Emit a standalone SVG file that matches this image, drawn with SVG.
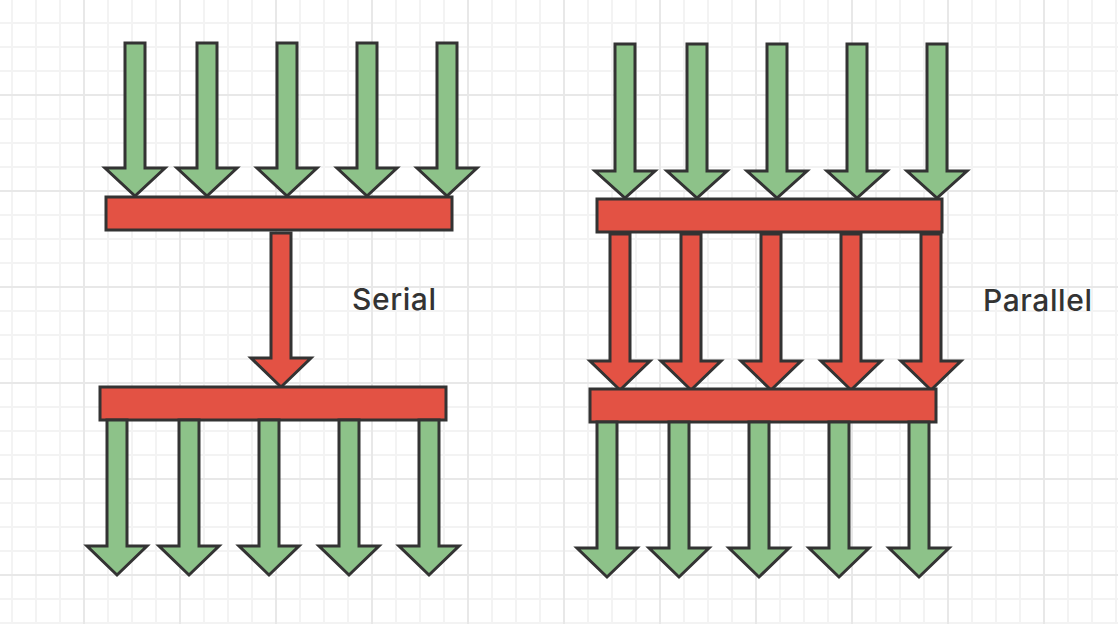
<svg xmlns="http://www.w3.org/2000/svg" width="1118" height="624" viewBox="0 0 1118 624">
  <defs>
    <pattern id="minor" patternUnits="userSpaceOnUse" x="11" y="22" width="24" height="24">
      <rect x="0" y="0" width="2" height="24" fill="#f3f3f3"/>
      <rect x="0" y="0" width="24" height="2" fill="#f3f3f3"/>
    </pattern>
    <pattern id="major" patternUnits="userSpaceOnUse" x="83" y="94" width="96" height="96">
      <rect x="0" y="0" width="2" height="96" fill="#e8e8e8"/>
      <rect x="0" y="0" width="96" height="2" fill="#e8e8e8"/>
    </pattern>
    <style>
      .g { fill: #8dc289; stroke: #333333; stroke-width: 3; stroke-linejoin: miter; }
      .r { fill: #e35244; stroke: #333333; stroke-width: 3; stroke-linejoin: miter; }
      .lbl { font-family: Inter, "Liberation Sans", sans-serif; font-size: 30px; font-weight: 500; fill: #333333; }
    </style>
  </defs>
  <rect width="1118" height="624" fill="#ffffff"/>
  <rect width="1118" height="624" fill="url(#minor)"/>
  <rect width="1118" height="624" fill="url(#major)"/>

  <g id="serial">
    <g id="serial-in">
      <path class="g" d="M125,43 H145 V168 H165 L135,196 L105,168 H125 Z"/>
      <path class="g" d="M197,43 H217 V168 H237 L207,196 L177,168 H197 Z"/>
      <path class="g" d="M277,43 H297 V168 H317 L287,196 L257,168 H277 Z"/>
      <path class="g" d="M357,43 H377 V168 H397 L367,196 L337,168 H357 Z"/>
      <path class="g" d="M437,43 H457 V168 H477 L447,196 L417,168 H437 Z"/>
    </g>
    <rect id="serial-bar1" class="r" x="106" y="197" width="346" height="33"/>
    <path id="serial-link" class="r" d="M271,233 H291 V358 H311 L281,387 L251,358 H271 Z"/>
    <rect id="serial-bar2" class="r" x="100" y="387" width="346" height="33"/>
    <g id="serial-out">
      <path class="g" d="M107,420 H127 V546 H147 L117,575 L87,546 H107 Z"/>
      <path class="g" d="M179,420 H199 V546 H219 L189,575 L159,546 H179 Z"/>
      <path class="g" d="M259,420 H279 V546 H299 L269,575 L239,546 H259 Z"/>
      <path class="g" d="M339,420 H359 V546 H379 L349,575 L319,546 H339 Z"/>
      <path class="g" d="M419,420 H439 V546 H459 L429,575 L399,546 H419 Z"/>
    </g>
    <text id="serial-label" class="lbl" x="352" y="310" textLength="84">Serial</text>
  </g>

  <g id="parallel">
    <g id="parallel-in">
      <path class="g" d="M615,44 H635 V171 H655 L625,198 L595,171 H615 Z"/>
      <path class="g" d="M687,44 H707 V171 H727 L697,198 L667,171 H687 Z"/>
      <path class="g" d="M767,44 H787 V171 H807 L777,198 L747,171 H767 Z"/>
      <path class="g" d="M847,44 H867 V171 H887 L857,198 L827,171 H847 Z"/>
      <path class="g" d="M927,44 H947 V171 H967 L937,198 L907,171 H927 Z"/>
    </g>
    <rect id="parallel-bar1" class="r" x="597" y="199" width="345" height="33"/>
    <g id="parallel-links">
      <path class="r" d="M610,234 H630 V361 H650 L620,390 L590,361 H610 Z"/>
      <path class="r" d="M681,234 H701 V361 H721 L691,390 L661,361 H681 Z"/>
      <path class="r" d="M761,234 H781 V361 H801 L771,390 L741,361 H761 Z"/>
      <path class="r" d="M841,234 H861 V361 H881 L851,390 L821,361 H841 Z"/>
      <path class="r" d="M921,234 H941 V361 H961 L931,390 L901,361 H921 Z"/>
    </g>
    <rect id="parallel-bar2" class="r" x="590" y="389" width="346" height="33"/>
    <g id="parallel-out">
      <path class="g" d="M597,422 H617 V548 H637 L607,577 L577,548 H597 Z"/>
      <path class="g" d="M669,422 H689 V548 H709 L679,577 L649,548 H669 Z"/>
      <path class="g" d="M749,422 H769 V548 H789 L759,577 L729,548 H749 Z"/>
      <path class="g" d="M829,422 H849 V548 H869 L839,577 L809,548 H829 Z"/>
      <path class="g" d="M909,422 H929 V548 H949 L919,577 L889,548 H909 Z"/>
    </g>
    <text id="parallel-label" class="lbl" x="983" y="311" textLength="109">Parallel</text>
  </g>
</svg>
